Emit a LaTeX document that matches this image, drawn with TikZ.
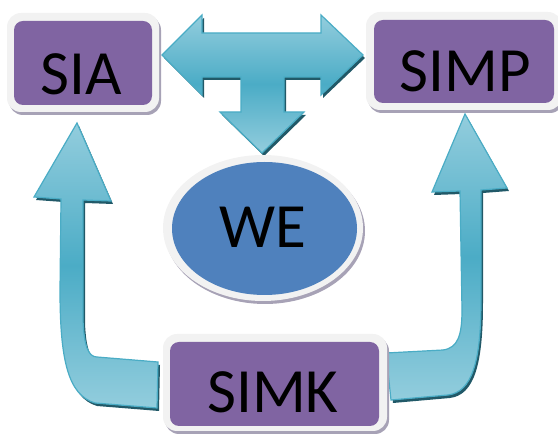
\documentclass[tikz,border=0pt]{standalone}
\usepackage{fontspec}
\setmainfont{Carlito}
\usetikzlibrary{shapes.geometric,shadows}
\definecolor{boxpurple}{HTML}{8064A2}
\definecolor{weblue}{HTML}{4F81BD}
\definecolor{framecol}{HTML}{F2F2F2}
\definecolor{boxshadow}{HTML}{A7A2B6}
\definecolor{arrlight}{HTML}{93CDDD}
\definecolor{arrdark}{HTML}{4BACC6}
\definecolor{arredge}{HTML}{4AACC5}
\definecolor{arrshadow}{HTML}{215968}
\tikzset{
  framebox/.style={rectangle, rounded corners=14pt, fill=framecol, inner sep=0pt,
    general shadow={fill=boxshadow, shadow xshift=2pt, shadow yshift=-3pt}},
  purplebox/.style={rectangle, rounded corners=9pt, fill=boxpurple, inner sep=0pt},
  frameell/.style={ellipse, fill=framecol, inner sep=0pt,
    general shadow={fill=boxshadow, shadow xshift=2pt, shadow yshift=-3pt}},
  blueell/.style={ellipse, fill=weblue, inner sep=0pt},
  lbl/.style={font=\fontsize{63}{75}\selectfont, text=black, inner sep=0pt},
  blockarrow/.style={draw=arredge, line width=1.2pt, line join=miter,
    top color=arrlight, bottom color=arrlight, middle color=arrdark,
    general shadow={fill=arrshadow, shadow xshift=2pt, shadow yshift=-3pt}}
}
\begin{document}
\begin{tikzpicture}[x=1pt,y=-1pt]
\useasboundingbox (0,0) rectangle (558,435);
% T-shaped double arrow
\path[blockarrow] (162,55) -- (202,15) -- (202,33) -- (321,33) -- (321,15) -- (363,55)
  -- (321,95) -- (321,77) -- (284,77) -- (284,112) -- (304,112) -- (262,153)
  -- (220,112) -- (241,112) -- (241,77) -- (202,77) -- (202,95) -- cycle;
% left bent arrow
\path[blockarrow] (77,123) -- (111,201) -- (83,200) -- (83,320)
  .. controls (84,345) and (88,357) .. (97,357) -- (158,362) -- (157,408)
  -- (95,403) .. controls (68,395) and (60,360) .. (60,290) -- (61,199)
  -- (34,197) -- cycle;
% right bent arrow
\path[blockarrow] (465,114) -- (507,188) -- (481,190) -- (481,300)
  .. controls (481,362) and (472,392) .. (448,395) -- (391,400) -- (386,353)
  -- (443,350) .. controls (458,348) and (462,335) .. (462,310) -- (460,191)
  -- (432,192) -- cycle;
% SIA
\node[framebox, minimum width=152pt, minimum height=99pt] (SIAf) at (83,62.5) {};
\node[purplebox, minimum width=138pt, minimum height=84pt] (SIAb) at (83,63) {};
\node[lbl] (SIA) at (81,74) {SIA};
% SIMP
\node[framebox, minimum width=196pt, minimum height=98pt] (SIMPf) at (464,61) {};
\node[purplebox, minimum width=180pt, minimum height=83pt] (SIMPb) at (464,61.5) {};
\node[lbl] (SIMP) at (465,71) {SIMP};
% WE
\node[frameell, minimum width=200pt, minimum height=146pt] (WEf) at (263,228) {};
\node[blueell, minimum width=185pt, minimum height=133pt] (WEb) at (264.5,228.5) {};
\node[lbl] (WE) at (263,227) {WE};
% SIMK
\node[framebox, minimum width=224pt, minimum height=97pt] (SIMKf) at (275,382.5) {};
\node[purplebox, minimum width=209pt, minimum height=84pt] (SIMKb) at (274.5,384) {};
\node[lbl] (SIMK) at (273,392) {SIMK};
\end{tikzpicture}
\end{document}
